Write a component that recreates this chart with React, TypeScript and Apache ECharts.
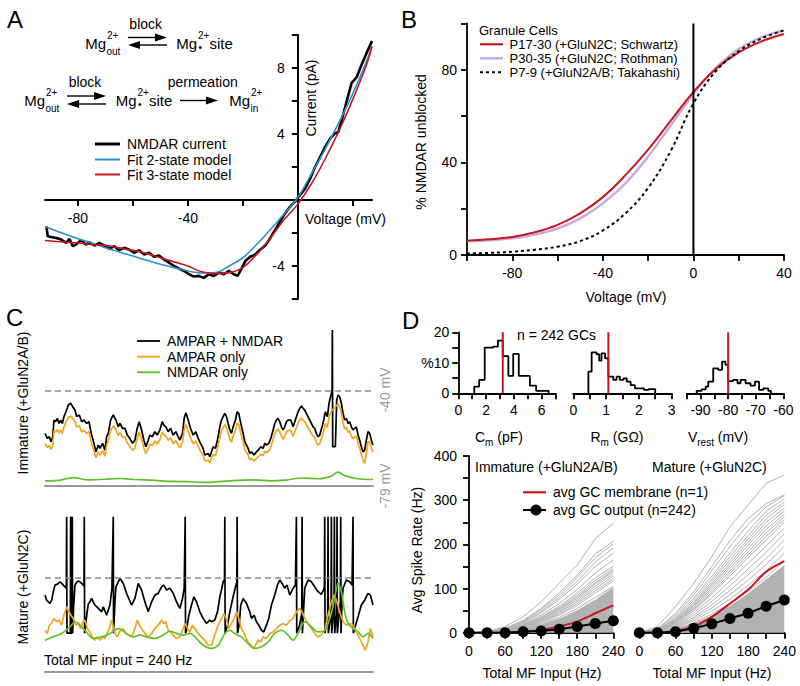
import React, { useEffect, useRef } from 'react';
import * as echarts from 'echarts';

const FONT = "'Liberation Sans', Arial, Helvetica, sans-serif";

// ---------------- Panel A : I-V relation (mV, pA) ----------------
const aNmdarCurrent: [number, number][] = [
  [-91.5, -1.6], [-91, -2.2], [-89.7, -2.24], [-87.9, -2.3], [-86.1, -2.4], [-84.3, -2.6], [-83.1, -2.36],
  [-81.9, -2.8], [-80.7, -2.7], [-78.9, -2.44], [-77.1, -2.7], [-75.8, -2.56], [-74, -2.76], [-72.2, -2.6],
  [-70.4, -2.76], [-68.6, -2.96], [-66.8, -2.8], [-65, -3.04], [-63.2, -2.9], [-61.4, -3.0], [-59.5, -3.2],
  [-57.7, -3.04], [-55.9, -3.3], [-54.1, -3.2], [-52.3, -3.44], [-50.5, -3.36], [-48.7, -3.6], [-46.9, -3.8],
  [-45, -4.0], [-43.2, -4.16], [-41.4, -4.3], [-39.6, -4.5], [-37.8, -4.64], [-36, -4.6], [-34.2, -4.72],
  [-32.4, -4.5], [-30.6, -4.6], [-28.7, -4.4], [-26.9, -4.5], [-25.1, -4.3], [-23.3, -4.5], [-21.9, -4.6],
  [-20.9, -4.3], [-19.1, -3.7], [-17.3, -3.44], [-15.5, -3.3], [-13.6, -3.0], [-11.8, -2.76], [-10, -2.3],
  [-8.2, -1.8], [-6.4, -1.3], [-4.6, -0.8], [-2.8, -0.4], [-1, -0.1], [0.8, 0.3], [2.7, 0.7], [4.5, 1.3],
  [6.3, 2.0], [8.1, 2.6], [9.9, 3.2], [11.7, 3.7], [13.5, 4.04], [14.7, 4.1], [15.9, 4.8], [17.8, 6.0],
  [19.6, 7.1], [21.4, 7.44], [23.2, 8.2], [25, 8.9], [27, 9.64],
];
const aFit2State: [number, number][] = [
  [-92, -1.6], [-85, -2.05], [-80, -2.35], [-75, -2.6], [-70, -2.9], [-65, -3.15], [-60, -3.4], [-55, -3.65],
  [-50, -3.9], [-45, -4.1], [-40, -4.3], [-35, -4.42], [-30, -4.4], [-25, -4.0], [-20, -3.5], [-15, -2.7],
  [-10, -1.8], [-5, -0.85], [0, 0.15], [5, 1.6], [10, 3.1], [15, 4.7], [20, 6.45], [25, 8.4], [27, 9.3],
];
const aFit3State: [number, number][] = [
  [-92, -2.45], [-85, -2.55], [-80, -2.6], [-75, -2.7], [-70, -2.75], [-65, -2.9], [-60, -3.05], [-55, -3.25],
  [-50, -3.5], [-45, -3.75], [-40, -4.0], [-35, -4.35], [-30, -4.45], [-25, -4.4], [-20, -4.1], [-15, -3.3],
  [-10, -2.3], [-5, -1.2], [0, -0.25], [5, 1.0], [10, 2.5], [15, 4.2], [20, 6.1], [25, 8.2], [27, 9.3],
];
const aXTicks = [-80, -60, -40, -20, 0, 20];
const aXLabels = [-80, -40];
const aYLabels = [-4, 4, 8];

// ---------------- Panel B : % unblocked vs voltage ----------------
const bSchwartz: [number, number][] = [
  [-100, 6.2], [-90, 6.8], [-80, 7.8], [-70, 9.8], [-60, 13], [-50, 18], [-40, 25], [-30, 34.5], [-20, 45.5],
  [-10, 58], [0, 70.5], [10, 80.5], [20, 87.5], [30, 92.3], [40, 95.5],
];
const bRothman: [number, number][] = [
  [-100, 6], [-90, 6.4], [-80, 7.2], [-70, 8.8], [-60, 11.5], [-50, 15.8], [-40, 22.3], [-30, 31], [-20, 42.5],
  [-10, 56], [0, 69.5], [10, 81], [20, 89], [30, 94], [40, 97],
];
const bTakahashi: [number, number][] = [
  [-100, 0.6], [-90, 0.9], [-80, 1.4], [-70, 2.3], [-60, 3.6], [-50, 6], [-40, 10.6], [-30, 18], [-20, 29],
  [-10, 45], [0, 65.5], [10, 79.5], [20, 88], [30, 93.5], [40, 97],
];
const bXLabels = [-80, -40, 0, 40];
const bYLabels = [0, 40, 80];

// ---------------- Panel C : voltage traces (time, mV) ----------------
const cImmBoth: [number, number][] = [
  [0, -57.6], [7, -59.7], [13, -59.0], [18, -61.0], [23, -59.3], [27, -52.1], [32, -52.8], [37, -51.4], [42, -53.5],
  [47, -52.1], [52, -53.5], [57, -50.7], [63, -48.7], [70, -45.9], [77, -45.2], [83, -46.6], [90, -48.0], [95, -50.7],
  [103, -50.0], [110, -52.8], [117, -52.1], [125, -53.5], [132, -52.8], [140, -58.3], [147, -61.7], [153, -65.2],
  [160, -62.4], [165, -63.8], [173, -61.7], [180, -64.5], [185, -59.0], [190, -57.6], [197, -52.1], [205, -50.0],
  [213, -52.1], [220, -54.9], [225, -53.5], [233, -55.5], [240, -55.5], [247, -58.3], [255, -59.7], [263, -61.7],
  [270, -60.4], [277, -55.5], [283, -52.8], [290, -56.2], [297, -60.4], [303, -63.1], [310, -60.4], [315, -58.3],
  [322, -59.0], [330, -56.9], [337, -58.3], [345, -56.2], [352, -52.8], [357, -54.2], [363, -54.9], [370, -56.9],
  [377, -55.5], [385, -58.3], [393, -56.9], [400, -59.0], [405, -60.4], [413, -57.6], [418, -51.4], [423, -49.1],
  [430, -52.1], [437, -55.5], [445, -58.3], [453, -56.9], [460, -59.7], [467, -61.7], [475, -63.8], [480, -66.5],
  [490, -65.9], [495, -67.2], [500, -65.2], [505, -63.1], [512, -63.8], [520, -59.0], [525, -54.9], [530, -52.1],
  [535, -50.7], [540, -49.4], [545, -50.7], [550, -53.5], [555, -56.2], [560, -57.6], [565, -54.9], [572, -52.1],
  [577, -48.7], [582, -49.4], [588, -53.5], [595, -57.6], [600, -61.0], [605, -62.4], [610, -63.8], [615, -65.9],
  [620, -65.2], [628, -66.5], [635, -65.2], [640, -64.5], [648, -63.1], [655, -63.8], [660, -61.7], [665, -62.4],
  [672, -61.7], [678, -59.7], [685, -56.2], [690, -53.5], [695, -52.1], [700, -51.4], [705, -52.8], [710, -54.9],
  [715, -56.2], [720, -54.9], [725, -52.8], [730, -52.1], [738, -52.1], [745, -54.9], [750, -52.8], [755, -50.7],
  [760, -48.7], [765, -47.3], [770, -46.3], [775, -47.3], [780, -48.0], [785, -49.4], [790, -50.7], [795, -52.1],
  [800, -53.5], [805, -54.9], [810, -55.5], [815, -57.6], [820, -59.0], [825, -58.3], [832, -54.9], [837, -52.1],
  [842, -48.7], [848, -50.7], [853, -45.2], [860, -41.1], [862, -40.6], [863, -15], [864, -63.1], [872, -63.1],
  [876, -43.9], [880, -41.8], [885, -42.5], [890, -45.2], [895, -49.4], [900, -52.1], [905, -51.4], [910, -53.5],
  [915, -52.8], [920, -54.9], [925, -56.2], [930, -55.5], [935, -54.9], [940, -58.3], [945, -60.4], [950, -63.1],
  [955, -65.2], [960, -64.5], [965, -60.4], [970, -56.9], [975, -57.6], [980, -60.4], [985, -62.4],
];
const cImmAmpar: [number, number][] = [
  [0, -61.7], [7, -63.5], [13, -62.5], [18, -64.2], [23, -62.8], [27, -56.5], [32, -57.0], [37, -56.0], [42, -57.5],
  [47, -56.2], [52, -57.6], [57, -55.0], [63, -53.0], [70, -51.0], [77, -50.5], [83, -51.5], [90, -52.6], [95, -55.0],
  [103, -54.5], [110, -57.0], [117, -56.4], [125, -57.6], [132, -56.9], [140, -61.8], [147, -64.8], [153, -67.6],
  [160, -65.2], [165, -66.5], [173, -64.6], [180, -67.0], [185, -62.5], [190, -61.0], [197, -56.5], [205, -54.5],
  [213, -56.0], [220, -58.5], [225, -57.3], [233, -59.2], [240, -59.0], [247, -61.6], [255, -62.8], [263, -64.6],
  [270, -63.5], [277, -59.5], [283, -57.0], [290, -60.0], [297, -63.6], [303, -66.0], [310, -63.8], [315, -62.0],
  [322, -62.6], [330, -60.8], [337, -62.0], [345, -60.2], [352, -57.0], [357, -58.2], [363, -58.8], [370, -60.5],
  [377, -59.4], [385, -61.8], [393, -60.6], [400, -62.4], [405, -63.6], [413, -61.4], [418, -56.0], [423, -54.0],
  [430, -56.5], [437, -59.4], [445, -61.9], [453, -60.8], [460, -63.0], [467, -64.8], [475, -66.6], [480, -69.0],
  [490, -68.6], [495, -69.8], [500, -68.0], [505, -66.3], [512, -66.8], [520, -62.6], [525, -59.0], [530, -56.6],
  [535, -55.3], [540, -54.0], [545, -55.2], [550, -57.6], [555, -60.0], [560, -61.2], [565, -58.8], [572, -56.4],
  [577, -53.4], [582, -54.0], [588, -57.6], [595, -61.2], [600, -64.2], [605, -65.3], [610, -66.6], [615, -68.5],
  [620, -67.9], [628, -69.0], [635, -67.9], [640, -67.3], [648, -66.2], [655, -66.8], [660, -64.9], [665, -65.5],
  [672, -64.9], [678, -63.2], [685, -60.0], [690, -57.6], [695, -56.4], [700, -55.8], [705, -57.0], [710, -58.8],
  [715, -59.9], [720, -58.8], [725, -57.0], [730, -56.4], [738, -56.4], [745, -58.8], [750, -57.0], [755, -55.2],
  [760, -53.4], [765, -52.2], [770, -51.3], [775, -52.2], [780, -52.8], [785, -54.0], [790, -55.2], [795, -56.4],
  [800, -57.6], [805, -58.8], [810, -59.3], [815, -61.2], [820, -62.5], [825, -61.9], [832, -58.9], [837, -56.4],
  [842, -53.5], [848, -55.2], [853, -50.5], [860, -48.5], [870, -47.0], [880, -45.5], [885, -46.5], [890, -49.0],
  [895, -53.0], [900, -55.8], [905, -55.2], [910, -57.2], [915, -56.6], [920, -58.6], [925, -59.8], [930, -59.2],
  [935, -58.6], [940, -61.8], [945, -63.6], [950, -66.0], [955, -68.5], [960, -70.0], [965, -66.0], [970, -60.8],
  [975, -61.4], [980, -63.6], [985, -65.4],
];
const cImmNmdar: [number, number][] = [
  [0, -77.2], [40, -77.0], [85, -75.8], [130, -76.8], [180, -76.5], [230, -76.2], [270, -76.6], [330, -77.0],
  [380, -77.4], [430, -77.5], [480, -77.8], [530, -77.4], [580, -77.0], [630, -76.8], [680, -77.2], [720, -76.9],
  [770, -76.0], [820, -76.3], [860, -75.2], [880, -73.6], [900, -75.0], [940, -76.3], [985, -76.6],
];
const cMatBoth: [number, number][] = [
  [0, -47.3], [5, -49.4], [10, -50.1], [15, -50.7], [20, -49.4], [25, -45.9], [30, -43.2], [35, -42.9], [40, -42.5],
  [45, -41.8], [50, -42.5], [55, -43.2], [60, -43.9], [64, -44.5], [65, -15], [66, -63], [76, -63], [77, -15],
  [78, -63], [81, -63], [82, -15], [83, -63], [86, -52], [90, -43.2], [95, -42.1], [100, -41.5], [105, -41.8],
  [110, -42.5], [115, -43.2], [117, -43.5], [118, -15], [119, -63], [125, -56], [130, -51], [135, -50.1],
  [140, -48.7], [145, -50.1], [150, -51.4], [160, -52.8], [170, -54.2], [175, -52.1], [185, -55.6], [195, -51.4],
  [201, -44.5], [205, -15], [206, -63], [210, -50], [213, -43.9], [225, -40.4], [235, -42.5], [245, -46.6],
  [260, -51.4], [270, -48.7], [280, -42.5], [290, -45.2], [300, -50.1], [310, -54.2], [320, -50.1], [330, -47.3],
  [340, -46.6], [350, -43.9], [357, -43.2], [365, -45.2], [375, -44.5], [385, -46.6], [395, -50.1], [405, -52.8],
  [413, -48.7], [418, -44.5], [421, -15], [422, -63], [425, -61.8], [432, -55.6], [440, -51.4], [447, -48.0],
  [455, -50.1], [465, -54.2], [475, -56.9], [485, -59.0], [495, -57.6], [500, -58.3], [510, -57.6], [518, -54.2],
  [525, -48.0], [530, -45.2], [535, -41.8], [539, -41], [540, -15], [541, -63], [548, -59.7], [555, -54.2],
  [565, -48.0], [572, -43.9], [576, -42], [577, -15], [578, -63], [583, -59.7], [588, -51.4], [595, -48.7],
  [605, -50.7], [615, -54.2], [620, -56.9], [628, -55.6], [635, -58.3], [642, -59.7], [650, -61.8], [657, -62.5],
  [665, -59.7], [672, -56.9], [680, -51.4], [690, -47.3], [698, -43.2], [705, -41.1], [712, -42.5], [720, -44.5],
  [727, -43.2], [735, -47.3], [745, -44.5], [752, -43.2], [755, -15], [756, -63], [764, -60], [771, -55],
  [772, -15], [773, -63], [776, -55], [780, -44.5], [790, -41.1], [800, -41.8], [810, -43.9], [820, -45.9],
  [830, -47.0], [836, -45.2], [839, -44], [840, -15], [841, -63], [849, -55], [850, -15], [851, -63], [859, -55],
  [860, -15], [861, -63], [868, -52], [869, -15], [870, -63], [876, -55], [877, -15], [878, -63], [887, -50],
  [888, -15], [889, -63], [892, -50], [895, -44.5], [905, -41.1], [915, -41.8], [922, -43.2], [925, -15],
  [926, -63], [932, -60], [940, -56.3], [950, -51.4], [960, -49.4], [970, -46.6], [977, -47.3], [985, -51.4],
];
const cMatAmpar: [number, number][] = [
  [0, -61.8], [7, -63.1], [13, -59.7], [20, -59.0], [27, -56.9], [35, -58.3], [43, -57.6], [50, -59.7], [57, -55.6],
  [65, -52.1], [72, -54.2], [78, -55.6], [85, -57.0], [93, -59.7], [100, -59.0], [107, -61.1], [115, -58.3],
  [120, -57.6], [127, -61.1], [135, -62.5], [142, -64.5], [150, -65.9], [157, -64.5], [165, -65.9], [173, -64.5],
  [180, -65.2], [185, -63.8], [193, -61.1], [200, -57.6], [205, -60.4], [210, -63.1], [217, -64.5], [225, -62.2],
  [235, -61.1], [243, -63.1], [250, -63.8], [260, -64.5], [270, -61.1], [277, -57.6], [283, -59.7], [290, -61.1],
  [300, -63.1], [310, -64.5], [320, -63.1], [330, -61.1], [340, -59.7], [350, -57.6], [357, -59.0], [363, -58.3],
  [370, -61.8], [377, -62.5], [385, -63.8], [395, -65.2], [405, -64.5], [415, -61.1], [422, -59.0], [428, -61.1],
  [435, -62.5], [443, -59.7], [450, -61.1], [460, -63.1], [470, -64.5], [480, -65.9], [490, -68.0], [500, -68.0],
  [510, -63.8], [520, -59.7], [530, -56.9], [538, -54.9], [545, -57.6], [552, -61.1], [560, -59.0], [568, -56.9],
  [576, -54.2], [583, -57.6], [590, -61.1], [598, -63.1], [605, -65.2], [610, -66.6], [618, -68.0], [625, -69.3],
  [632, -68.0], [640, -65.9], [648, -66.6], [655, -64.5], [665, -65.2], [675, -63.1], [685, -62.5], [695, -61.1],
  [705, -59.7], [715, -59.0], [725, -59.7], [735, -57.9], [745, -56.9], [755, -54.2], [765, -52.8], [772, -54.2],
  [780, -56.9], [790, -59.0], [800, -61.1], [810, -63.1], [820, -64.5], [830, -63.8], [840, -61.8], [850, -55.6],
  [860, -50.1], [868, -47.3], [875, -49.4], [885, -54.2], [895, -58.3], [905, -59.7], [915, -59.0], [925, -59.7],
  [935, -62.5], [945, -65.2], [955, -68.0], [962, -70.0], [970, -66.6], [977, -61.1], [985, -64.5],
];
const cMatNmdar: [number, number][] = [
  [0, -65.9], [25, -64.5], [50, -63.1], [75, -60.4], [90, -58.3], [100, -59.0], [120, -61.8], [145, -65.2],
  [170, -64.5], [195, -63.1], [220, -61.1], [245, -63.1], [265, -64.5], [285, -63.8], [305, -64.5], [330, -65.2],
  [355, -63.8], [375, -62.2], [395, -63.1], [415, -63.8], [435, -63.1], [455, -65.2], [475, -68.0], [500, -69.3],
  [520, -68.0], [540, -63.1], [555, -61.8], [570, -63.1], [590, -64.5], [610, -67.3], [630, -69.3], [650, -68.6],
  [670, -66.6], [690, -63.1], [710, -61.8], [730, -63.8], [745, -65.9], [760, -63.1], [780, -58.3], [800, -60.4],
  [820, -62.5], [840, -61.8], [855, -57.0], [868, -50.1], [880, -42.5], [890, -45.9], [900, -54.2], [910, -59.0],
  [925, -61.1], [940, -62.5], [955, -64.5], [970, -63.1], [985, -65.2],
];
const cThreshold = -40;

// ---------------- Panel D : histograms (bin edge, %) ----------------
const histCm: [number, number][] = [
  [1.15, 0], [1.15, 2.2], [1.5, 4.4], [1.9, 15], [2.5, 15.3], [2.85, 17.3], [3.2, 12.2], [3.6, 5.7],
  [3.95, 12.9], [4.35, 5.7], [5.15, 2.5], [5.6, 0.8], [6.5, 0],
];
const histRm: [number, number][] = [
  [0.46, 0], [0.46, 7.1], [0.56, 13.4], [0.71, 12.8], [0.79, 10.7], [0.86, 13.1], [0.97, 11.5], [1.07, 5.5],
  [1.22, 4.4], [1.32, 5.5], [1.42, 4.4], [1.53, 4.9], [1.63, 3.8], [1.75, 2.7], [1.88, 1.6], [2.16, 1.1],
  [2.3, 1.4], [2.5, 0],
];
const histVrest: [number, number][] = [
  [-91.4, 0], [-91.4, 0.8], [-89.6, 1.3], [-88.1, 2.2], [-87.2, 3.8], [-85.4, 8.2], [-83.6, 7.7], [-82.2, 10.4],
  [-81, 9.3], [-80, 4], [-78.2, 4.4], [-76.6, 3.3], [-75.5, 4.4], [-73.7, 3.3], [-71.9, 2.5], [-70.3, 3.8],
  [-68.8, 1.1], [-67.3, 1.6], [-65.5, 0.8], [-64.5, 0],
];
const medianCm = 3.2;
const medianRm = 1.07;
const medianVrest = -80;
const cmLabels = [0, 2, 4, 6];
const rmLabels = [0, 1, 2, 3];
const vrestLabels = [-90, -80, -70, -60];
const histYLabels: Record<number, string> = { 0: '0', 10: '%10', 20: '20' };

// ---------------- Panel D : input-output curves ----------------
const dInput = [0, 30, 60, 90, 120, 150, 180, 210, 240];
const dInputLabels = [0, 60, 120, 180, 240];
const dRateLabels = [0, 100, 200, 300, 400];
const dImmGray: number[][] = [
  [0, 2, 14, 36, 70, 112, 153, 213, 248],
  [0, 1, 10, 28, 55, 90, 130, 178, 207],
  [0, 1, 9, 26, 52, 85, 125, 170, 201],
  [0, 1, 9, 24, 48, 80, 117, 160, 192],
  [0, 1, 8, 22, 45, 75, 110, 150, 180],
  [0, 0, 7, 20, 40, 66, 98, 135, 165],
  [0, 0, 6, 18, 36, 60, 90, 124, 150],
  [0, 0, 6, 17, 34, 57, 85, 118, 145],
  [0, 0, 5, 16, 32, 54, 81, 113, 141],
  [0, 0, 5, 15, 31, 52, 78, 110, 138],
  [0, 0, 4, 14, 29, 49, 74, 105, 133],
  [0, 0, 4, 13, 27, 46, 70, 100, 128],
  [0, 0, 3, 12, 25, 43, 66, 95, 122],
  [0, 0, 3, 11, 23, 40, 62, 90, 117],
  [0, 0, 3, 10, 20, 35, 55, 80, 105],
  [0, 0, 2, 8, 17, 30, 48, 70, 95],
  [0, 0, 2, 7, 14, 25, 40, 60, 82],
  [0, 0, 1, 5, 11, 20, 33, 50, 70],
  [0, 0, 1, 4, 8, 15, 25, 40, 56],
  [0, 0, 0, 2, 5, 10, 18, 28, 42],
  [0, 0, 0, 1, 3, 6, 11, 18, 28],
  [0, 0, 0, 0, 1, 3, 6, 10, 16],
];
const dImmDense = [0, 0, 2, 8, 18, 31, 50, 74, 102];
const dMatGray: number[][] = [
  [0, 14, 59, 112, 172, 240, 289, 338, 357],
  [0, 9, 44, 92, 150, 208, 258, 292, 312],
  [0, 8, 40, 85, 140, 195, 245, 285, 310],
  [0, 6, 35, 78, 128, 180, 230, 275, 303],
  [0, 6, 33, 73, 121, 172, 220, 266, 296],
  [0, 5, 30, 68, 115, 165, 212, 258, 290],
  [0, 5, 28, 65, 110, 158, 205, 250, 282],
  [0, 4, 27, 62, 106, 152, 198, 242, 275],
  [0, 4, 25, 59, 101, 146, 190, 234, 268],
  [0, 4, 24, 56, 96, 140, 183, 226, 262],
  [0, 3, 22, 53, 91, 134, 176, 218, 256],
  [0, 3, 21, 50, 87, 128, 170, 210, 250],
  [0, 3, 18, 45, 79, 117, 157, 196, 237],
  [0, 2, 16, 40, 71, 106, 144, 182, 224],
  [0, 2, 14, 35, 63, 96, 131, 168, 210],
  [0, 2, 12, 31, 56, 86, 119, 154, 196],
  [0, 1, 10, 27, 49, 76, 107, 140, 180],
  [0, 1, 8, 22, 42, 66, 94, 125, 162],
  [0, 1, 6, 18, 35, 56, 81, 110, 145],
  [0, 0, 5, 14, 28, 46, 68, 94, 127],
  [0, 0, 3, 10, 21, 36, 55, 78, 108],
  [0, 0, 2, 7, 15, 26, 42, 62, 88],
  [0, 0, 1, 4, 9, 17, 29, 45, 65],
  [0, 0, 0, 2, 5, 10, 18, 30, 45],
];
const dMatDense = [0, 1, 7, 20, 38, 60, 88, 120, 152];
const dImmMembrane = [0, 0, 0, 2, 6, 14, 25, 44, 62];
const dImmOutput = [0, 0, 0, 2, 4, 8, 14, 21, 27];
const dMatMembrane = [0, 0, 4, 14, 36, 66, 97, 138, 162];
const dMatOutput = [0, 0, 2, 10, 20, 32, 44, 60, 74];

// ---------------- colours ----------------
const RED = '#c8161d';
const BLUE = '#2a90cf';
const LAVENDER = '#c6a9e0';
const ORANGE = '#f2a51e';
const GREEN = '#62c02a';
const GRAY = '#b2b2b2';

// ---------------- helpers ----------------
function txt(text: string, x: number, y: number, o: any = {}) {
  const align = o.align || 'left';
  const va = o.va || 'middle';
  return {
    type: 'text', x, y, rotation: o.rot || 0, silent: true, z: 50,
    style: {
      text, fill: o.color || '#000', fontSize: o.size || 14, fontFamily: FONT,
      fontWeight: o.weight || 'normal', align, verticalAlign: va, textAlign: align, textVerticalAlign: va,
      rich: o.rich,
    },
  };
}
function hline(x1: number, x2: number, y: number, color: string, w: number, dash?: number[]) {
  return { type: 'line', silent: true, z: 50, shape: { x1, y1: y, x2, y2: y }, style: { stroke: color, lineWidth: w, lineDash: dash } };
}
function arrowRight(x1: number, x2: number, y: number) {
  return [
    { type: 'line', silent: true, shape: { x1, y1: y, x2: x2 - 8, y2: y }, style: { stroke: '#000', lineWidth: 1.4 } },
    { type: 'polygon', silent: true, shape: { points: [[x2, y], [x2 - 12, y - 4], [x2 - 12, y + 4]] }, style: { fill: '#000' } },
  ];
}
function arrowLeft(x1: number, x2: number, y: number) {
  return [
    { type: 'line', silent: true, shape: { x1: x1 + 8, y1: y, x2, y2: y }, style: { stroke: '#000', lineWidth: 1.4 } },
    { type: 'polygon', silent: true, shape: { points: [[x1, y], [x1 + 12, y - 4], [x1 + 12, y + 4]] }, style: { fill: '#000' } },
  ];
}
function mg(xRight: number, y: number, sup: string, sub?: string) {
  const els: any[] = [txt('Mg', xRight, y, { align: 'right', size: 15 }), txt(sup, xRight + 1, y - 8, { size: 10 })];
  if (sub) els.push(txt(sub, xRight + 0.5, y + 8, { size: 10 }));
  return els;
}
function mgSite(xRight: number, y: number) {
  return [
    txt('Mg', xRight, y, { align: 'right', size: 15 }),
    txt('2+', xRight + 1, y - 8, { size: 10 }),
    txt('•', xRight + 1.5, y + 4, { size: 10 }),
    txt('site', xRight + 12.5, y, { size: 15 }),
  ];
}
function richText(x: number, y: number, main: string, sub: string, rest: string) {
  const base = txt('', x, y, { align: 'center' });
  return {
    ...base,
    style: {
      ...base.style,
      text: `{a|${main}}{s|${sub}}{a|${rest}}`,
      rich: {
        a: { fontSize: 14, fontFamily: FONT, fill: '#000', color: '#000', lineHeight: 20, verticalAlign: 'middle' },
        s: { fontSize: 10, fontFamily: FONT, fill: '#000', color: '#000', lineHeight: 10, verticalAlign: 'bottom' },
      },
    },
  };
}

const lab = (vals: number[]) => (v: number) => (vals.some((x) => Math.abs(x - v) < 1e-6) ? String(v) : '');

function axis(gridIndex: number, min: number, max: number, interval: number | undefined, extra: any = {}) {
  const base: any = {
    type: 'value', gridIndex, min, max, interval,
    axisLine: { show: true, onZero: false, lineStyle: { color: '#000', width: 1.8 } },
    axisTick: { show: true, length: 6, lineStyle: { color: '#000', width: 1.8 } },
    axisLabel: { show: true, color: '#000', fontSize: 14, fontFamily: FONT, margin: 10 },
    splitLine: { show: false },
  };
  for (const k of Object.keys(extra)) {
    base[k] = typeof extra[k] === 'object' && !Array.isArray(extra[k]) && base[k] ? { ...base[k], ...extra[k] } : extra[k];
  }
  return base;
}

function lineSeries(data: any, xi: number, color: string, width: number, extra: any = {}) {
  const { lineStyle, ...rest } = extra;
  return {
    type: 'line', xAxisIndex: xi, yAxisIndex: xi, data, symbol: 'none', silent: true,
    itemStyle: { color },
    ...rest,
    lineStyle: { color, width, ...(lineStyle || {}) },
  };
}

// grid geometry for panel A (value 0 of each axis sits inside the grid)
const A_LEFT = 45, A_TOP = 35, A_W = 327, A_H = 264;
const A_XMIN = -92, A_XMAX = 27, A_YMIN = -6, A_YMAX = 10;

function buildOption() {
  const grids = [
    { left: A_LEFT, top: A_TOP, width: A_W, height: A_H },
    { left: 467, top: 23.5, width: 317, height: 231.5 },
    { left: 45, top: 330, width: 328, height: 155.3 },
    { left: 45, top: 516.7, width: 328, height: 155.3 },
    { left: 458.3, top: 332.3, width: 97.3, height: 61 },
    { left: 573.3, top: 332.3, width: 98.3, height: 61 },
    { left: 686.7, top: 332.3, width: 96.7, height: 61 },
    { left: 469, top: 456, width: 144.3, height: 176.7 },
    { left: 639.3, top: 456, width: 145, height: 176.7 },
  ].map((g) => ({ ...g, containLabel: false, outerBoundsMode: 'none' }));

  // offsets that put panel A's axes through the origin (the axis crosses at value 0)
  const aXOffset = -(A_H * (0 - A_YMIN)) / (A_YMAX - A_YMIN);
  const aYOffset = -(A_W * (0 - A_XMIN)) / (A_XMAX - A_XMIN);

  const hiddenC = (gi: number) => axis(gi, 0, 985, undefined, {
    axisLine: { show: true, onZero: false, lineStyle: { color: '#999', width: 2 } },
    axisTick: { show: false }, axisLabel: { show: false },
  });

  const xAxes = [
    axis(0, A_XMIN, A_XMAX, undefined, {
      position: 'bottom', offset: aXOffset,
      axisLine: { show: true, onZero: false, lineStyle: { color: '#000', width: 2 } },
      axisTick: { show: true, length: 6, customValues: aXTicks, lineStyle: { color: '#000', width: 2 } },
      axisLabel: { show: true, customValues: aXLabels, color: '#000', fontSize: 14, fontFamily: FONT, margin: 11 },
    }),
    axis(1, -100, 40, 20, { axisLabel: { formatter: lab(bXLabels), margin: 11 } }),
    hiddenC(2),
    hiddenC(3),
    axis(4, 0, 7, 1, { axisLabel: { formatter: lab(cmLabels) } }),
    axis(5, 0, 3, 0.5, { axisLabel: { formatter: lab(rmLabels) } }),
    axis(6, -95, -60, 5, { axisLabel: { formatter: lab(vrestLabels) } }),
    axis(7, 0, 240, 30, { axisLabel: { formatter: lab(dInputLabels), margin: 11 } }),
    axis(8, 0, 240, 30, { axisLabel: { formatter: lab(dInputLabels), margin: 11 } }),
  ];
  const yAxes = [
    axis(0, A_YMIN, A_YMAX, 2, {
      position: 'left', offset: aYOffset,
      axisLine: { show: true, onZero: false, lineStyle: { color: '#000', width: 2 } },
      axisTick: { show: true, length: 6, lineStyle: { color: '#000', width: 2 } },
      axisLabel: { formatter: lab(aYLabels), margin: 13 },
    }),
    axis(1, 0, 100, 20, { axisLabel: { formatter: lab(bYLabels), margin: 10 } }),
    { ...axis(2, -79, -15, undefined), show: false },
    { ...axis(3, -79, -15, undefined), show: false },
    axis(4, 0, 20, 5, { axisLabel: { formatter: (v: number) => histYLabels[v] ?? '', margin: 9 } }),
    { ...axis(5, 0, 20, 5), show: false },
    { ...axis(6, 0, 20, 5), show: false },
    axis(7, 0, 400, 50, { axisLabel: { formatter: lab(dRateLabels), margin: 12 } }),
    { ...axis(8, 0, 400, 50), show: false },
  ];

  const series: any[] = [];
  // A
  series.push(lineSeries(aNmdarCurrent, 0, '#000', 2.6));
  series.push(lineSeries(aFit2State, 0, BLUE, 1.6, { smooth: 0.35 }));
  series.push(lineSeries(aFit3State, 0, RED, 1.6, { smooth: 0.35 }));
  // B
  series.push(lineSeries(bRothman, 1, LAVENDER, 2.4, { smooth: 0.4 }));
  series.push(lineSeries(bSchwartz, 1, RED, 2, { smooth: 0.4 }));
  series.push(lineSeries(bTakahashi, 1, '#000', 2, { smooth: 0.4, lineStyle: { type: [3, 3] } }));
  series.push(lineSeries([[0, 0], [0, 100]], 1, '#000', 2));
  // C
  const dash = {
    silent: true, symbol: ['none', 'none'], label: { show: false },
    lineStyle: { color: '#8a8a8a', type: [6, 4], width: 1.5 }, data: [{ yAxis: cThreshold }],
  };
  series.push(lineSeries(cImmBoth, 2, '#000', 1.7, { markLine: dash }));
  series.push(lineSeries(cImmAmpar, 2, ORANGE, 1.7));
  series.push(lineSeries(cImmNmdar, 2, GREEN, 1.7, { smooth: 0.3 }));
  series.push(lineSeries(cMatBoth, 3, '#000', 1.7, { markLine: dash }));
  series.push(lineSeries(cMatAmpar, 3, ORANGE, 1.7));
  series.push(lineSeries(cMatNmdar, 3, GREEN, 1.7, { smooth: 0.3 }));
  // D histograms
  series.push(lineSeries(histCm, 4, '#000', 1.8, { step: 'end' }));
  series.push(lineSeries([[medianCm, 0], [medianCm, 20]], 4, RED, 2));
  series.push(lineSeries(histRm, 5, '#000', 1.8, { step: 'end' }));
  series.push(lineSeries([[medianRm, 0], [medianRm, 20]], 5, RED, 2));
  series.push(lineSeries(histVrest, 6, '#000', 1.8, { step: 'end' }));
  series.push(lineSeries([[medianVrest, 0], [medianVrest, 20]], 6, RED, 2));
  // D input-output
  const pairs = (vals: number[]) => dInput.map((x, i) => [x, vals[i]]);
  series.push(lineSeries(pairs(dImmDense), 7, GRAY, 0.8, { areaStyle: { color: GRAY, opacity: 1 } }));
  dImmGray.forEach((g) => series.push(lineSeries(pairs(g), 7, GRAY, 1)));
  series.push(lineSeries(pairs(dImmMembrane), 7, RED, 2, { smooth: 0.3 }));
  series.push({ ...lineSeries(pairs(dImmOutput), 7, '#000', 2), symbol: 'circle', symbolSize: 11, showSymbol: true });
  series.push(lineSeries(pairs(dMatDense), 8, GRAY, 0.8, { areaStyle: { color: GRAY, opacity: 1 } }));
  dMatGray.forEach((g) => series.push(lineSeries(pairs(g), 8, GRAY, 1)));
  series.push(lineSeries(pairs(dMatMembrane), 8, RED, 2, { smooth: 0.3 }));
  series.push({ ...lineSeries(pairs(dMatOutput), 8, '#000', 2), symbol: 'circle', symbolSize: 11, showSymbol: true });

  // graphic texts
  const g: any[] = [];
  g.push(txt('A', 7, 19, { size: 24 }), txt('B', 401, 19, { size: 24 }), txt('C', 6, 317, { size: 24 }), txt('D', 402, 320, { size: 24 }));
  // A scheme 1
  g.push(txt('block', 145.7, 23.5, { align: 'center' }));
  g.push(...arrowRight(128, 167, 37.5), ...arrowLeft(128, 167, 45));
  g.push(...mg(106, 43, '2+', 'out'));
  g.push(...mgSite(197, 43));
  // A scheme 2
  g.push(txt('block', 85, 82, { align: 'center' }), txt('permeation', 202.7, 82, { align: 'center' }));
  g.push(...arrowRight(67, 106, 96), ...arrowLeft(67, 106, 104));
  g.push(...mg(45, 100.5, '2+', 'out'));
  g.push(...mgSite(136.5, 100.5));
  g.push(...arrowRight(180, 218, 100.5));
  g.push(...mg(250, 100.5, '2+', 'in'));
  // A legend
  g.push(hline(95, 120, 144, '#000', 3), txt('NMDAR current', 127, 144));
  g.push(hline(95, 120, 159.5, BLUE, 2), txt('Fit 2-state model', 127, 159.5));
  g.push(hline(95, 120, 174.5, RED, 2), txt('Fit 3-state model', 127, 174.5));
  g.push(txt('Current (pA)', 311, 98, { align: 'center', rot: Math.PI / 2 }));
  g.push(txt('Voltage (mV)', 305, 218.5));
  // B
  g.push(txt('Granule Cells', 479, 30, { size: 13 }));
  g.push(hline(480, 503, 44.3, RED, 2.2), txt('P17-30 (+GluN2C; Schwartz)', 509.5, 44.3, { size: 13 }));
  g.push(hline(480, 503, 58.3, LAVENDER, 2.4), txt('P30-35 (+GluN2C; Rothman)', 509.5, 58.3, { size: 13 }));
  g.push(hline(480, 503, 72.3, '#000', 2, [3, 3]), txt('P7-9 (+GluN2A/B; Takahashi)', 509.5, 72.3, { size: 13 }));
  g.push(txt('% NMDAR unblocked', 421, 142, { align: 'center', rot: Math.PI / 2 }));
  g.push(txt('Voltage (mV)', 626, 297, { align: 'center' }));
  // C
  g.push(hline(137, 160, 341, '#000', 1.8), txt('AMPAR + NMDAR', 167, 341));
  g.push(hline(137, 160, 356.7, ORANGE, 1.8), txt('AMPAR only', 167, 356.7));
  g.push(hline(137, 160, 372.3, GREEN, 1.8), txt('NMDAR only', 167, 372.3));
  g.push(txt('Immature (+GluN2A/B)', 23, 403, { align: 'center', rot: Math.PI / 2 }));
  g.push(txt('Mature (+GluN2C)', 23, 587, { align: 'center', rot: Math.PI / 2 }));
  g.push(txt('-40 mV', 385, 390, { align: 'center', rot: Math.PI / 2, color: '#9a9a9a' }));
  g.push(txt('-79 mV', 385, 486, { align: 'center', rot: Math.PI / 2, color: '#9a9a9a' }));
  g.push(txt('Total MF input = 240 Hz', 44, 660));
  // D histograms
  g.push(txt('n = 242 GCs', 517, 335));
  g.push(richText(499, 437, 'C', 'm', ' (pF)'));
  g.push(richText(617, 437, 'R', 'm', ' (GΩ)'));
  g.push(richText(718, 437, 'V', 'rest', ' (mV)'));
  // D io
  g.push(txt('Immature (+GluN2A/B)', 475, 467.3), txt('Mature (+GluN2C)', 652, 467.3));
  g.push(hline(523, 546, 492.3, RED, 2.2), txt('avg GC membrane (n=1)', 553, 492.3));
  g.push(hline(523, 546, 510, '#000', 2), { type: 'circle', silent: true, z: 50, shape: { cx: 536, cy: 510, r: 5.5 }, style: { fill: '#000' } });
  g.push(txt('avg GC output (n=242)', 553, 510));
  g.push(txt('Avg Spike Rate (Hz)', 417, 550, { align: 'center', rot: Math.PI / 2 }));
  g.push(txt('Total MF Input (Hz)', 542, 673, { align: 'center' }), txt('Total MF Input (Hz)', 712, 673, { align: 'center' }));

  return {
    animation: false,
    backgroundColor: '#ffffff',
    textStyle: { fontFamily: FONT, color: '#000' },
    grid: grids,
    xAxis: xAxes,
    yAxis: yAxes,
    series,
    graphic: g,
  };
}

export default function App() {
  const ref = useRef<HTMLDivElement>(null);
  useEffect(() => {
    if (!ref.current) return;
    const chart = echarts.init(ref.current, null, { renderer: 'svg' });
    chart.setOption(buildOption() as any);
    return () => chart.dispose();
  }, []);
  return <div ref={ref} style={{ position: 'absolute', left: 0, top: 0, width: 800, height: 686 }} />;
}
